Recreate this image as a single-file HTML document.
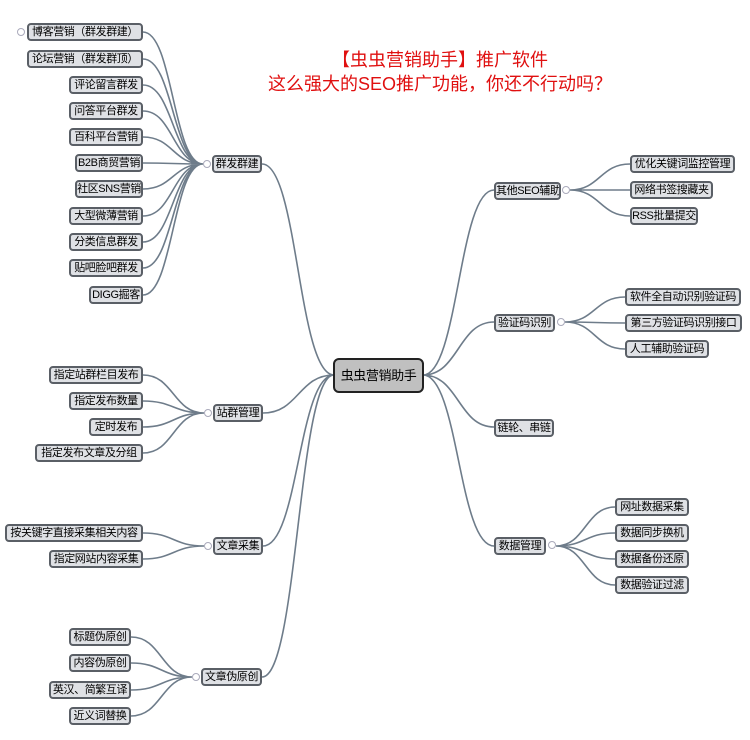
<!DOCTYPE html>
<html><head><meta charset="utf-8"><style>
body{margin:0;width:750px;height:740px;background:#fff;position:relative;overflow:hidden;font-family:"Liberation Sans","Noto Sans CJK SC",sans-serif}
.b{position:absolute;height:18px;box-sizing:border-box;border:2px solid #5a5f66;border-radius:4px;background:#dfe1e5;font-size:11px;letter-spacing:-0.4px;line-height:14px;text-align:center;white-space:nowrap;color:#000;overflow:hidden;padding:0}
.c{position:absolute;width:8px;height:8px;border:1px solid #aab;border-radius:50%;background:#fff;box-sizing:border-box}
.t{position:absolute;left:240px;width:400px;text-align:center;color:#e01010;font-size:18px;line-height:24px}
svg{position:absolute;left:0;top:0}
</style></head><body>
<svg id="s" width="750" height="740"></svg>
<div class="t" style="top:48px">【虫虫营销助手】推广软件</div>
<div class="t" style="top:72px">这么强大的SEO推广功能，你还不行动吗？</div>

<div class="b" style="left:333px;top:358px;width:91px;height:35px;line-height:31px;background:#c0c0c0;border-color:#222;border-radius:6px;font-size:13px">虫虫营销助手</div>

<div class="b" style="left:212px;top:155px;width:50px">群发群建</div><div class="c" style="left:203px;top:160px"></div>
<div class="c" style="left:17px;top:28px"></div>
<div class="b" style="left:27px;top:23px;width:116px">博客营销（群发群建）</div>
<div class="b" style="left:27px;top:50px;width:116px">论坛营销（群发群顶）</div>
<div class="b" style="left:69px;top:76px;width:74px">评论留言群发</div>
<div class="b" style="left:69px;top:102px;width:74px">问答平台群发</div>
<div class="b" style="left:69px;top:128px;width:74px">百科平台营销</div>
<div class="b" style="left:75px;top:154px;width:68px">B2B商贸营销</div>
<div class="b" style="left:75px;top:180px;width:68px">社区SNS营销</div>
<div class="b" style="left:69px;top:207px;width:74px">大型微薄营销</div>
<div class="b" style="left:69px;top:233px;width:74px">分类信息群发</div>
<div class="b" style="left:69px;top:259px;width:74px">贴吧脸吧群发</div>
<div class="b" style="left:89px;top:286px;width:54px">DIGG掘客</div>

<div class="b" style="left:213px;top:404px;width:50px">站群管理</div><div class="c" style="left:204px;top:409px"></div>
<div class="b" style="left:49px;top:366px;width:94px">指定站群栏目发布</div>
<div class="b" style="left:69px;top:392px;width:74px">指定发布数量</div>
<div class="b" style="left:89px;top:418px;width:54px">定时发布</div>
<div class="b" style="left:35px;top:444px;width:108px">指定发布文章及分组</div>

<div class="b" style="left:213px;top:537px;width:50px">文章采集</div><div class="c" style="left:204px;top:542px"></div>
<div class="b" style="left:5px;top:524px;width:138px">按关键字直接采集相关内容</div>
<div class="b" style="left:49px;top:550px;width:94px">指定网站内容采集</div>

<div class="b" style="left:201px;top:668px;width:61px">文章伪原创</div><div class="c" style="left:192px;top:673px"></div>
<div class="b" style="left:69px;top:628px;width:62px">标题伪原创</div>
<div class="b" style="left:69px;top:654px;width:62px">内容伪原创</div>
<div class="b" style="left:49px;top:681px;width:82px">英汉、简繁互译</div>
<div class="b" style="left:69px;top:707px;width:62px">近义词替换</div>

<div class="b" style="left:494px;top:182px;width:67px">其他SEO辅助</div><div class="c" style="left:562px;top:186px"></div>
<div class="b" style="left:630px;top:155px;width:105px">优化关键词监控管理</div>
<div class="b" style="left:630px;top:181px;width:83px">网络书签搜藏夹</div>
<div class="b" style="left:630px;top:207px;width:68px">RSS批量提交</div>

<div class="b" style="left:494px;top:314px;width:61px">验证码识别</div><div class="c" style="left:557px;top:318px"></div>
<div class="b" style="left:625px;top:288px;width:116px">软件全自动识别验证码</div>
<div class="b" style="left:625px;top:314px;width:117px">第三方验证码识别接口</div>
<div class="b" style="left:625px;top:340px;width:84px">人工辅助验证码</div>

<div class="b" style="left:494px;top:419px;width:60px">链轮、串链</div>

<div class="b" style="left:494px;top:537px;width:52px">数据管理</div><div class="c" style="left:548px;top:541px"></div>
<div class="b" style="left:615px;top:498px;width:74px">网址数据采集</div>
<div class="b" style="left:615px;top:524px;width:74px">数据同步换机</div>
<div class="b" style="left:615px;top:550px;width:74px">数据备份还原</div>
<div class="b" style="left:615px;top:576px;width:74px">数据验证过滤</div>

<script>
var s=document.getElementById('s'),d='';
function c(x1,y1,x2,y2){var m=(x1+x2)/2;d+='M'+x1+' '+y1+'C'+m+' '+y1+' '+m+' '+y2+' '+x2+' '+y2;}
[164,413,546,677].forEach(function(y,i){c(334,375,[262,263,263,262][i],y);});
[190,322,427,546].forEach(function(y){c(423,375,494,y);});
[32,59,85,111,137,163,189,216,242,268,295].forEach(function(y){c(203,164,143,y);});
[375,401,427,453].forEach(function(y){c(204,413,143,y);});
[533,559].forEach(function(y){c(204,546,143,y);});
[637,663,690,716].forEach(function(y){c(192,677,131,y);});
[164,190,216].forEach(function(y){c(570,190,630,y);});
[297,323,349].forEach(function(y){c(565,322,625,y);});
[507,533,559,585].forEach(function(y){c(556,546,615,y);});
var p=document.createElementNS('http://www.w3.org/2000/svg','path');
p.setAttribute('d',d);p.setAttribute('fill','none');p.setAttribute('stroke','#6e7c8a');p.setAttribute('stroke-width','1.6');
s.appendChild(p);
</script>
</body></html>
